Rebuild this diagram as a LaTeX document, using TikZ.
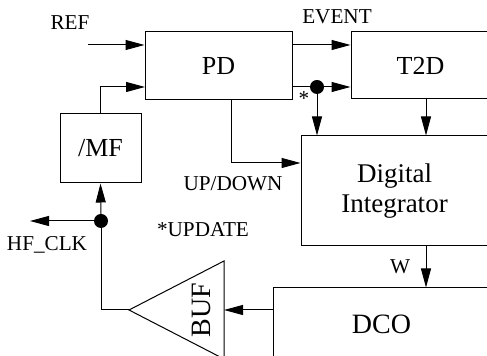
\documentclass[tikz,border=0pt]{standalone}
\usepackage{fontspec}
\setmainfont{Liberation Serif}
\usepackage{tikz}
\usetikzlibrary{
  arrows.meta,
  positioning,
  calc
}
\tikzset{
  blockbox/.style={draw,line width=0.5pt,inner sep=0pt,align=center,font=\fontsize{13}{15}\selectfont},
  bigbox/.style={blockbox,font=\fontsize{13.5}{15}\selectfont},
  sigarrow/.style={-{Triangle[length=9.5pt,width=5pt]},line width=0.5pt},
  sigline/.style={line width=0.5pt},
  siglabel/.style={font=\fontsize{10.6}{12}\selectfont,inner sep=0pt},
  joindot/.style={circle,fill,inner sep=0pt,minimum size=7pt}
}

\begin{document}
\begin{tikzpicture}[x=0.5pt,y=-0.5pt]
\clip (0,0) rectangle (487,356);
\useasboundingbox (0,0) rectangle (487,356);
% blocks
\node[blockbox, minimum width=73.5pt, minimum height=34pt] (pd) at (218.5,66) {PD};
\node[blockbox, minimum width=69.5pt, minimum height=33.5pt] (ttd) at (420.5,65.5) {T2D};
\node[blockbox, minimum width=40.5pt, minimum height=34.5pt] (mf) at (100.5,148.5) {/MF};
\node[bigbox, minimum width=93.5pt, minimum height=55pt] (integ) at (394.5,191) {Digital\\Integrator};
\node[blockbox, minimum width=108.5pt, minimum height=36pt, font=\fontsize{14}{16}\selectfont] (dco) at (381.5,324) {DCO};
% buffer
\coordinate (buftip) at (129,310);
\coordinate (bufbase) at (224,310);
\draw[sigline] (buftip) -- (224,261) -- (224,359) -- cycle;
\node[rotate=90, font=\fontsize{14}{16}\selectfont, inner sep=0pt] (buf) at (201,310) {BUF};
% helper points
\coordinate (ref) at (88,45);
\coordinate (pdin) at (145,87);
\coordinate (upd) at (317,87);
\coordinate (ud) at (231,163);
\coordinate (wx) at (426,0);
\coordinate (clk) at (101,221);
\coordinate (hfout) at (30,221);
% connectors
\draw[sigarrow] (ref) -- (pd.west |- ref);
\draw[sigarrow] (mf.north) |- (pdin);
\draw[sigarrow] (pd.east |- ref) -- (ttd.west |- ref);
\draw[sigarrow] (pd.east |- upd) -- (ttd.west |- upd);
\draw[sigarrow] (upd) -- (upd |- integ.north);
\node[joindot] (upddot) at (upd) {};
\draw[sigarrow] (ttd.south -| wx) -- (integ.north -| wx);
\draw[sigarrow] (pd.south -| ud) |- (integ.west |- ud);
\draw[sigarrow] (integ.south -| wx) -- (dco.north -| wx);
\draw[sigarrow] (dco.west |- bufbase) -- (bufbase);
\draw[sigline] (buftip) -| (clk);
\draw[sigarrow] (clk) -- (mf.south);
\draw[sigarrow] (clk) -- (hfout);
\node[joindot] (clkdot) at (clk) {};
% labels
\node[siglabel] (reflbl) at (70,23) {REF};
\node[siglabel] (eventlbl) at (337,17) {EVENT};
\node[siglabel] (starlbl) at (304,99) {*};
\node[siglabel] (udlbl) at (233,184) {UP/DOWN};
\node[siglabel] (updlbl) at (203,230) {*UPDATE};
\node[siglabel] (hflbl) at (47,245) {HF\_CLK};
\node[siglabel] (wlbl) at (400,267) {W};
\end{tikzpicture}
\end{document}
